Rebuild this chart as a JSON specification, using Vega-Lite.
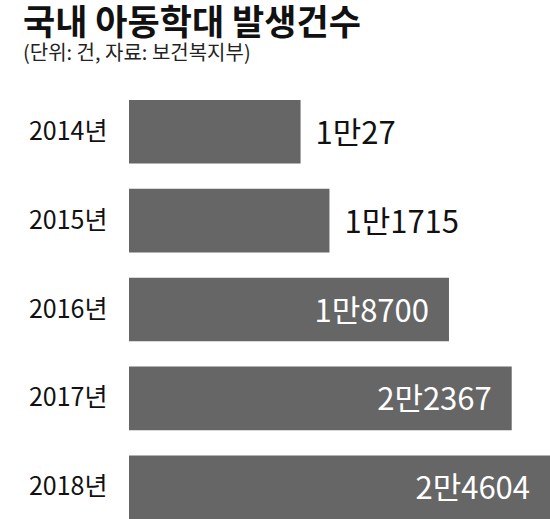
{
  "$schema": "https://vega.github.io/schema/vega-lite/v6.json",
  "width": 421,
  "height": 419,
  "autosize": {"type": "none"},
  "padding": {"left": 129, "top": 100, "right": 0, "bottom": 0},
  "background": "white",
  "config": {"view": {"stroke": null}, "font": "Noto Sans CJK KR"},
  "title": {
    "text": "국내 아동학대 발생건수",
    "subtitle": "(단위: 건, 자료: 보건복지부)",
    "anchor": "start",
    "frame": "group",
    "dx": -106,
    "offset": 36,
    "font": "Noto Sans CJK KR",
    "fontSize": 35,
    "fontWeight": "bold",
    "color": "#111111",
    "subtitleFont": "Noto Sans CJK KR",
    "subtitleFontSize": 20,
    "subtitleColor": "#222222",
    "subtitlePadding": 2
  },
  "data": {
    "values": [
      {"year": "2014년", "count": 10027, "label": "1만27"},
      {"year": "2015년", "count": 11715, "label": "1만1715"},
      {"year": "2016년", "count": 18700, "label": "1만8700"},
      {"year": "2017년", "count": 22367, "label": "2만2367"},
      {"year": "2018년", "count": 24604, "label": "2만4604"}
    ]
  },
  "encoding": {
    "y": {
      "field": "year",
      "type": "nominal",
      "sort": null,
      "scale": {"paddingInner": 0.285, "paddingOuter": 0},
      "axis": {
        "title": null,
        "domain": false,
        "ticks": false,
        "labelFontSize": 25,
        "labelPadding": 22,
        "labelColor": "#111111",
        "labelFont": "Noto Sans CJK KR"
      }
    },
    "x": {
      "field": "count",
      "type": "quantitative",
      "scale": {"domain": [0, 24604], "nice": false, "zero": true},
      "axis": null
    }
  },
  "layer": [
    {"mark": {"type": "bar", "color": "#666666"}},
    {
      "transform": [{"filter": "datum.count < 15000"}],
      "mark": {"type": "text", "align": "left", "dx": 15, "dy": 3, "fontSize": 31, "color": "#111111"},
      "encoding": {"text": {"field": "label"}}
    },
    {
      "transform": [{"filter": "datum.count >= 15000"}],
      "mark": {"type": "text", "align": "right", "dx": -20, "dy": 3, "fontSize": 31, "color": "#ffffff"},
      "encoding": {"text": {"field": "label"}}
    }
  ]
}
